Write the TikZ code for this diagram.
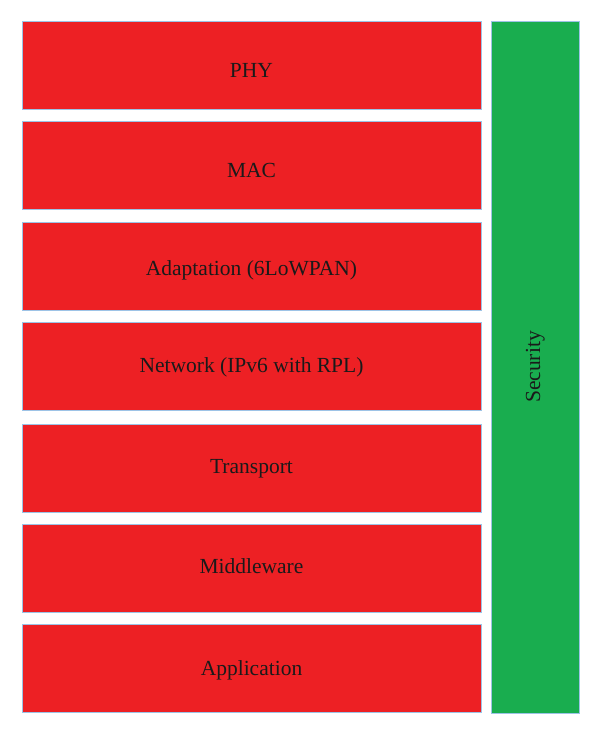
\documentclass[tikz,border=0pt]{standalone}
\usepackage{fontspec}
\setmainfont{Liberation Serif}
\definecolor{layred}{HTML}{ED2024}
\definecolor{secgreen}{HTML}{19AD4F}
\definecolor{edgeblue}{HTML}{9DC3E6}
\definecolor{txt}{HTML}{1A1A1A}
\begin{document}
\begin{tikzpicture}[x=1pt,y=-1pt,
  layer/.style={draw=edgeblue,line width=1pt,fill=layred,minimum width=459pt,minimum height=88pt,inner sep=0pt},
  secbox/.style={draw=edgeblue,line width=1pt,fill=secgreen,minimum width=88pt,minimum height=691pt,inner sep=0pt},
  lbl/.style={anchor=base,inner sep=0pt,text=txt,font=\fontsize{21.5}{24}\selectfont}]
\useasboundingbox (0,0) rectangle (600,735);
\node[layer] (phy) at (251.5,66) {};
\node[layer] (mac) at (251.5,166) {};
\node[layer] (adapt) at (251.5,266.5) {};
\node[layer] (net) at (251.5,366.5) {};
\node[layer] (trans) at (251.5,468) {};
\node[layer] (mid) at (251.5,568) {};
\node[layer] (app) at (251.5,668.5) {};
\node[secbox] (sec) at (535,367.5) {};
\node[lbl] (phyT) at (251.5,77.5) {PHY};
\node[lbl] (macT) at (251.5,178) {MAC};
\node[lbl] (adaptT) at (251.5,275) {Adaptation (6LoWPAN)};
\node[lbl] (netT) at (251.5,372) {Network (IPv6 with RPL)};
\node[lbl] (transT) at (251.5,473) {Transport};
\node[lbl] (midT) at (251.5,573) {Middleware};
\node[lbl] (appT) at (251.5,675) {Application};
\node[lbl,rotate=90] (secT) at (540,367) {Security};
\end{tikzpicture}
\end{document}
